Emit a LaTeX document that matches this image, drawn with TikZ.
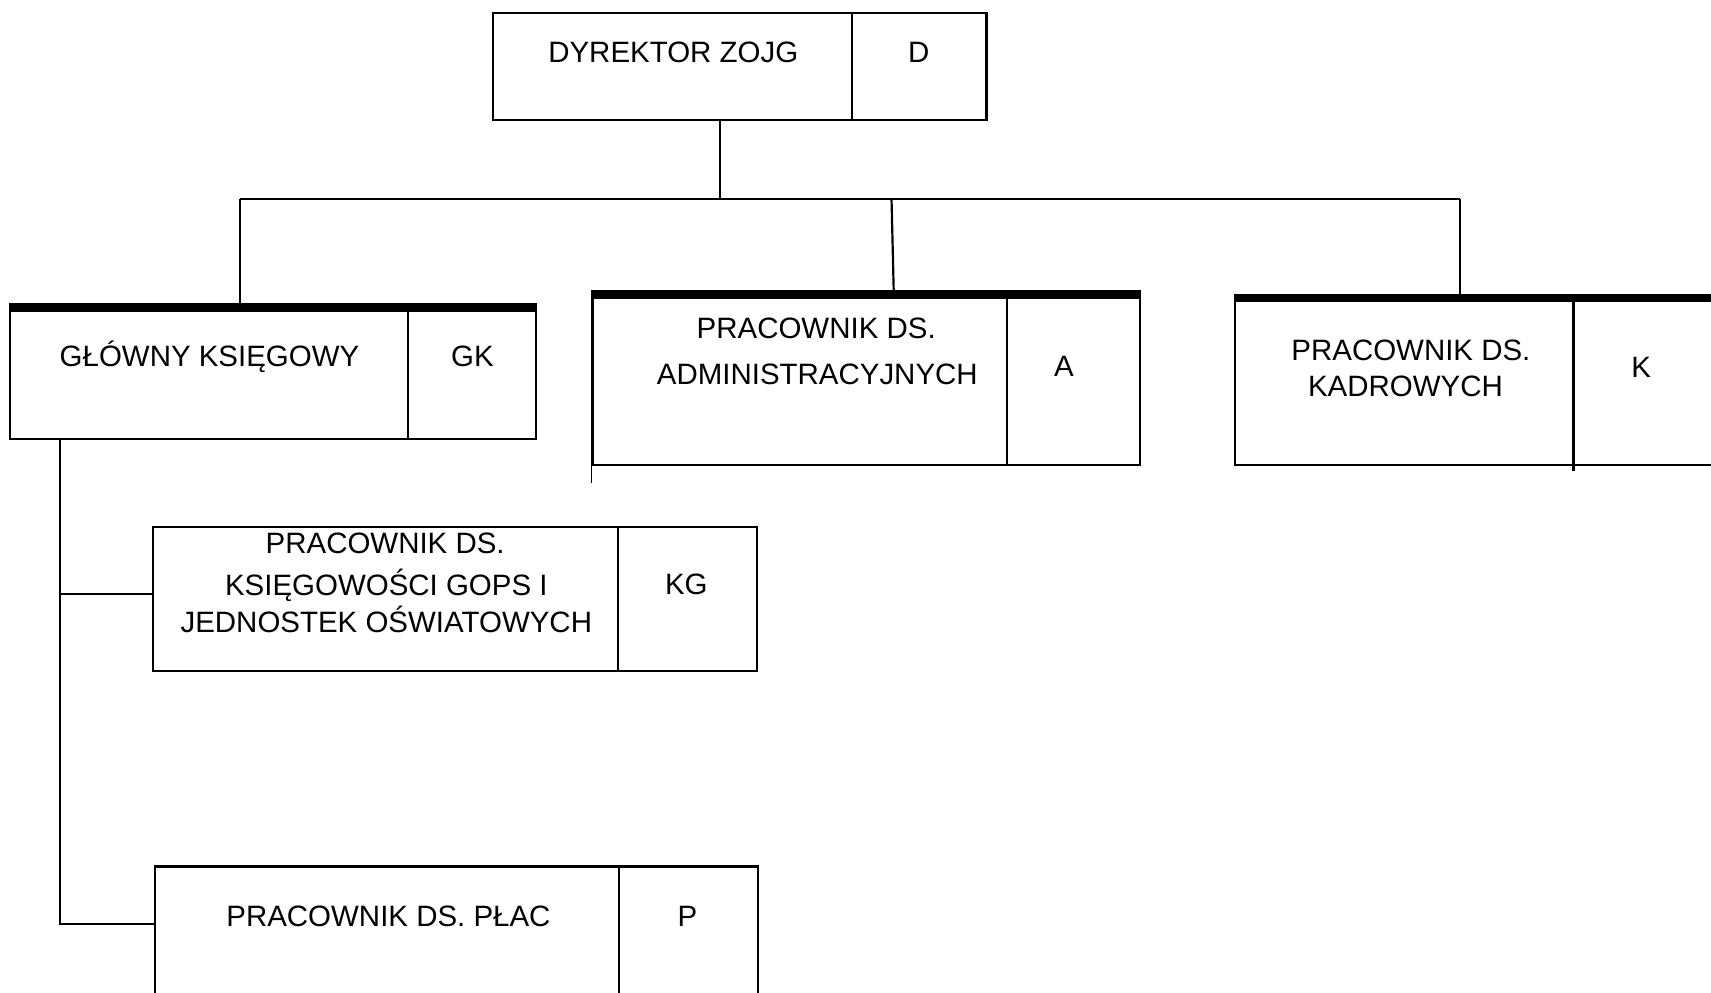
\documentclass[tikz,border=0pt]{standalone}
\usepackage{fontspec}
\setmainfont{Liberation Sans}
\usetikzlibrary{calc}
\begin{document}
\begin{tikzpicture}[x=1pt,y=-1pt,
  box/.style={draw, line width=2pt, rectangle, inner sep=0pt, anchor=north west},
  lbl/.style={anchor=base, inner sep=0pt, font=\fontsize{27}{32}\selectfont},
  conn/.style={line width=2pt}]
\useasboundingbox (0,0) rectangle (1568,910);
\clip (0,0) rectangle (1568,910);

% boxes
\node[box, minimum width=452pt, minimum height=98pt] (d) at (451,11) {};
\draw[conn] ($(d.north west)+(330,0)$) -- ($(d.south west)+(330,0)$);

\node[box, minimum width=482pt, minimum height=123pt] (gk) at (8,278) {};
\fill (gk.north west) rectangle ($(gk.north east)+(0,8)$);
\draw[conn] ($(gk.north west)+(366,8)$) -- ($(gk.south west)+(366,0)$);

\node[box, minimum width=502pt, minimum height=159pt] (a) at (542,266) {};
\fill (a.north west) rectangle ($(a.north east)+(0,8)$);
\draw[conn] ($(a.north west)+(381,8)$) -- ($(a.south west)+(381,0)$);
\draw[line width=1pt] (a.south west) -- ++(0,16);

\node[box, minimum width=480pt, minimum height=156pt] (k) at (1131,269) {};
\fill (k.north west) rectangle ($(k.north east)+(0,8)$);
\draw[conn] ($(k.north west)+(311,8)$) -- ($(k.south west)+(311,5)$);

\node[box, minimum width=554pt, minimum height=132pt] (kg) at (139,482) {};
\draw[conn] ($(kg.north west)+(427,0)$) -- ($(kg.south west)+(427,0)$);

\node[box, minimum width=553pt, minimum height=150pt] (p) at (141,793) {};
\draw[conn] ($(p.north west)+(426,0)$) -- ($(p.south west)+(426,0)$);

% connectors
\coordinate (j) at (660,182);
\coordinate (jl) at (220,182);
\coordinate (jm) at (817,182);
\coordinate (jr) at (1338,182);
\draw[conn] ($(d.south west)+(209,0)$) -- (j);
\draw[conn] (jl) -- (jr);
\draw[conn] (jl) -- ($(gk.north west)+(212,0)$);
\draw[conn] (jm) -- ($(a.north west)+(277,0)$);
\draw[conn] (jr) -- ($(k.north west)+(207,0)$);
\coordinate (v1) at (55,544);
\coordinate (v2) at (55,847);
\draw[conn] ($(gk.south west)+(47,0)$) -- (v2) -- ($(p.north west)+(0,54)$);
\draw[conn] (v1) -- ($(kg.north west)+(0,62)$);

% labels
\node[lbl] (td) at (617,57) {DYREKTOR ZOJG};
\node[lbl] (td2) at (842,57) {D};
\node[lbl] (tgk) at (192,336) {GŁÓWNY KSIĘGOWY};
\node[lbl] (tgk2) at (433,336) {GK};
\node[lbl] (ta1) at (748,310) {PRACOWNIK DS.};
\node[lbl] (ta2) at (749,352) {ADMINISTRACYJNYCH};
\node[lbl] (ta3) at (975,345) {A};
\node[lbl] (tk1) at (1293,330) {PRACOWNIK DS.};
\node[lbl] (tk2) at (1288,363) {KADROWYCH};
\node[lbl] (tk3) at (1504,346) {K};
\node[lbl] (tkg1) at (353,507) {PRACOWNIK DS.};
\node[lbl] (tkg2) at (354,546) {KSIĘGOWOŚCI GOPS I};
\node[lbl] (tkg3) at (354,580) {JEDNOSTEK OŚWIATOWYCH};
\node[lbl] (tkg4) at (629,545) {KG};
\node[lbl] (tp1) at (356,849) {PRACOWNIK DS. PŁAC};
\node[lbl] (tp2) at (630,849) {P};
\end{tikzpicture}
\end{document}
